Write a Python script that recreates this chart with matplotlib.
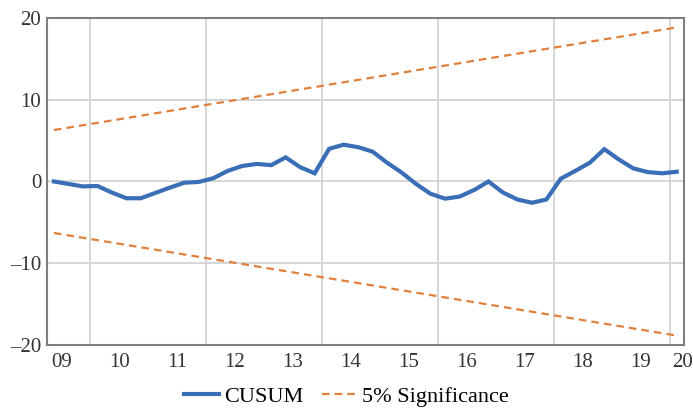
import numpy as np
import matplotlib
matplotlib.use("Agg")
import matplotlib.pyplot as plt

# ---------- DATA ----------

# quarterly CUSUM statistic, 2009Q2 .. 2020Q1
cusum = [
    0.0, -0.3, -0.6, -0.55, -1.35, -2.05, -2.05, -1.4, -0.75, -0.15,
    -0.05, 0.4, 1.3, 1.9, 2.15, 2.0, 2.95, 1.75, 1.0, 4.0,
    4.5, 4.2, 3.65, 2.3, 1.1, -0.3, -1.5, -2.1, -1.85, -1.05,
    0.0, -1.35, -2.2, -2.6, -2.2, 0.35, 1.3, 2.3, 3.95, 2.7,
    1.6, 1.15, 1.0, 1.2,
]
first_quarter = 2009.375          # mid-point of 2009Q2
quarters = first_quarter + 0.25 * np.arange(len(cusum))

# 5% significance band: value at the first and last observation
sig_bounds = [6.3, 18.85]

year_labels = ["09", "10", "11", "12", "13", "14",
               "15", "16", "17", "18", "19", "20"]
y_ticks = [-20, -10, 0, 10, 20]
y_labels = ["\u201320", "\u201310", "0", "10", "20"]

BLUE = "#3a6fb7"
ORANGE = "#e0803c"
GRID = "#d0d0d0"
FRAME = "#7f7f7f"

# ---------- PLOTTING ----------

plt.rcParams["font.family"] = ["Liberation Serif", "DejaVu Serif"]
plt.rcParams["font.size"] = 15

fig = plt.figure(figsize=(6.93, 4.09), dpi=100)
ax = fig.add_axes([0.0674, 0.1565, 0.9196, 0.7995])

ax.plot(quarters, cusum, color=BLUE, lw=3.0, solid_joinstyle="miter",
        label="CUSUM", zorder=3)

ends = [quarters[0], quarters[-1]]
ax.plot(ends, sig_bounds, color=ORANGE, lw=1.6, dashes=(3.4, 2.3),
        label="5% Significance", zorder=2)
ax.plot(ends, [-v for v in sig_bounds], color=ORANGE, lw=1.6,
        dashes=(3.4, 2.3), zorder=2)

ax.set_xlim(2009.25, 2020.25)
ax.set_ylim(-20, 20)

# grid: every other year boundary, every 10 units
for gx in range(2010, 2021, 2):
    ax.axvline(gx, color=GRID, lw=1.2, zorder=1)
for gy in (-10, 0, 10):
    ax.axhline(gy, color=GRID, lw=1.2, zorder=1)

# year labels sit mid-year; the last one is pulled back inside the frame
label_pos = [2009.5 + k for k in range(len(year_labels) - 1)] + [2020.22]
ax.set_xticks(label_pos)
ax.set_xticklabels(year_labels)
ax.set_yticks(y_ticks)
ax.set_yticklabels(y_labels)
ax.tick_params(axis="both", length=0, colors="#333333")
ax.tick_params(axis="x", pad=6)
ax.tick_params(axis="y", pad=4)

for side in ax.spines.values():
    side.set_color(FRAME)
    side.set_linewidth(1.5)

ax.legend(loc="lower center", bbox_to_anchor=(0.5, -0.016),
          bbox_transform=fig.transFigure, ncol=2, frameon=False,
          fontsize=16, handlelength=1.55, handletextpad=0.25,
          columnspacing=0.85, borderaxespad=0)

fig.savefig("out.png", dpi=100)
